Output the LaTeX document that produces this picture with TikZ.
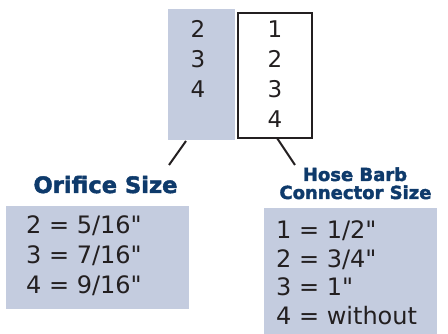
\documentclass[tikz,border=0pt]{standalone}
\usepackage{fontspec}
\setmainfont[Ligatures=TeXOff]{DejaVu Sans}
\newfontfamily\titlefont[FakeBold=2]{DejaVu Sans Bold}
\definecolor{fillblue}{HTML}{C4CCDF}
\definecolor{navy}{HTML}{0E3A6B}
\definecolor{ink}{HTML}{231F20}
\begin{document}
\begin{tikzpicture}[x=1pt,y=-1pt,
  digit/.style={inner sep=0pt,anchor=base,text=ink,font=\fontsize{23}{23}\selectfont},
  entry/.style={inner sep=0pt,anchor=base west,text=ink,font=\fontsize{24}{24}\selectfont},
  title/.style={inner sep=0pt,anchor=base,text=navy},
  lead/.style={line width=2pt,ink}]
\useasboundingbox (0,0) rectangle (448,334);
% top boxes
\node[fill=fillblue,draw=none,minimum width=67pt,minimum height=131pt,inner sep=0pt,anchor=north west] (orb) at (168,9) {};
\node[fill=white,draw=ink,line width=2pt,minimum width=74pt,minimum height=125pt,inner sep=0pt,anchor=north west] (hbb) at (237,12) {};
\node[digit] (o2) at (198,38) {2};
\node[digit] (o3) at (198,68) {3};
\node[digit] (o4) at (198,98) {4};
\node[digit] (h1) at (275,38) {1};
\node[digit] (h2) at (275,68) {2};
\node[digit] (h3) at (275,98) {3};
\node[digit] (h4) at (275,128) {4};
% leaders
\coordinate (ol1) at (186,141);
\coordinate (ol2) at (169,165);
\coordinate (hl1) at (277,138);
\coordinate (hl2) at (295,165);
\draw[lead] (ol1) -- (ol2);
\draw[lead] (hl1) -- (hl2);
% titles
\node[title,font=\titlefont\fontsize{22.6}{22.6}\selectfont] (ot) at (105.5,193) {Orifice Size};
\node[title,font=\titlefont\fontsize{18}{18}\selectfont] (ht1) at (355,181) {Hose Barb};
\node[title,font=\titlefont\fontsize{18}{18}\selectfont] (ht2) at (355.5,199) {Connector Size};
% bottom boxes
\node[fill=fillblue,minimum width=183pt,minimum height=103pt,inner sep=0pt,anchor=north west] (ob) at (6,206) {};
\node[fill=fillblue,minimum width=173pt,minimum height=126pt,inner sep=0pt,anchor=north west] (hb) at (264,208) {};
\node[entry] (e1) at (26,234) {2 = 5/16"};
\node[entry] (e2) at (26,264) {3 = 7/16"};
\node[entry] (e3) at (26,294) {4 = 9/16"};
\node[entry] (f1) at (276,239) {1 = 1/2"};
\node[entry] (f2) at (276,268) {2 = 3/4"};
\node[entry] (f3) at (276,296) {3 = 1"};
\node[entry] (f4) at (276,325) {4 = without};
\end{tikzpicture}
\end{document}
